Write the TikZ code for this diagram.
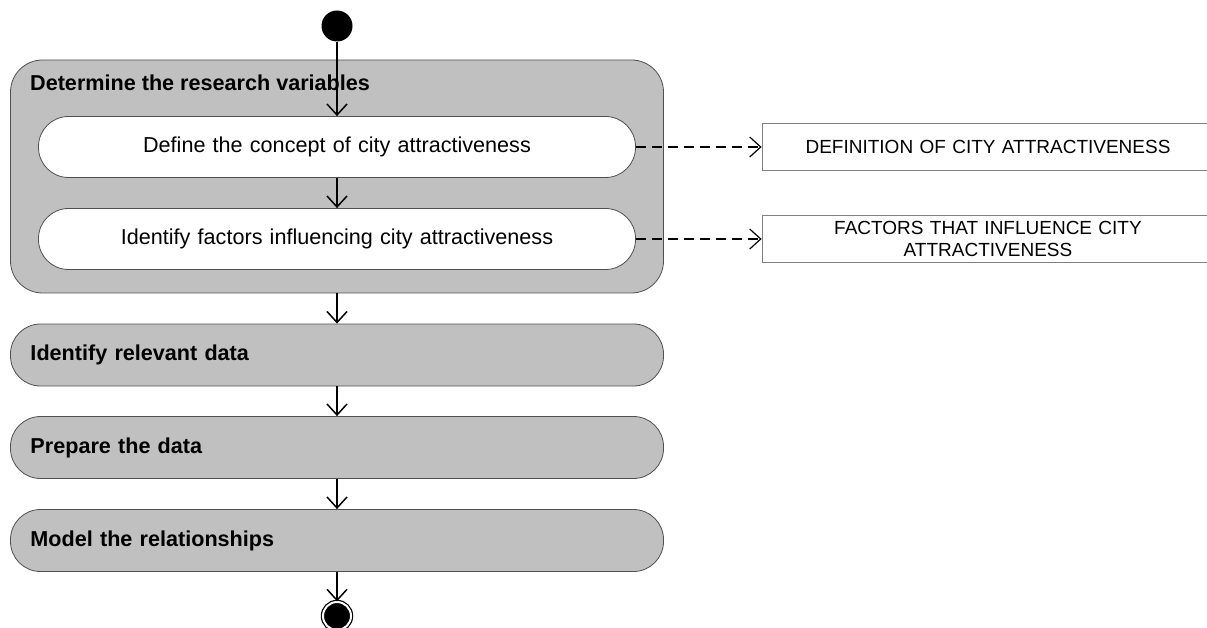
\documentclass[tikz,border=0pt]{standalone}
\usepackage{fontspec}
\setmainfont{Liberation Sans}
\usetikzlibrary{arrows.meta}
\definecolor{actF}{HTML}{C0C0C0}
\definecolor{actD}{HTML}{505050}
\definecolor{objD}{HTML}{808080}
\tikzset{
  act/.style={draw=actD, fill=actF, line width=0.8pt, rounded corners=30pt, minimum width=653pt,
              minimum height=62pt, text width=613pt, inner xsep=20pt, inner ysep=0pt, align=left,
              font=\fontsize{21.6}{26}\selectfont\bfseries},
  sub/.style={act, fill=white, minimum width=597pt, minimum height=61pt, text width=557pt,
              align=center, font=\fontsize{21.6}{26}\selectfont},
  obj/.style={draw=objD, line width=0.8pt, minimum width=452pt, minimum height=47pt, text width=420pt,
              inner sep=0pt, align=center, font=\fontsize{19}{22.5}\selectfont},
  flow/.style={-{Straight Barb[length=11pt,width=20pt]}, line width=1.5pt},
  produce/.style={flow, line width=1.2pt, dash pattern=on 10pt off 6pt},
}

\begin{document}
\begin{tikzpicture}[x=1pt, y=-1pt]
\useasboundingbox (0,0) rectangle (1207,628);
\node[circle, fill=black, minimum size=31pt, inner sep=0pt] (start) at (337,26) {};
\node[act, minimum height=233pt, rounded corners=32pt] (vars) at (337,176.5) {};
\node[anchor=west, inner sep=0pt, font=\fontsize{21.6}{26}\selectfont\bfseries] (varsT) at (30,83) {Determine the research variables};
\node[sub] (def) at (337,147) {Define the concept of city attractiveness};
\node[sub] (fac) at (337,239) {Identify factors influencing city attractiveness};
\node[act] (rel)   at (337,355)   {Identify relevant data};
\node[act] (prep)  at (337,447.5) {Prepare the data};
\node[act] (model) at (337,540.5) {Model the relationships};
\node[circle, fill=black, draw=black, double=white, double distance=2pt, line width=1.2pt,
      minimum size=28pt, inner sep=0pt] (stop) at (337,616) {};
% objects
\node[obj] (defO) at (988,147) {DEFINITION OF CITY ATTRACTIVENESS};
\node[obj] (facO) at (988,239) {FACTORS THAT INFLUENCE CITY\\ATTRACTIVENESS};
% flow
\foreach \a/\b in {start/def, def/fac, vars/rel, rel/prep, prep/model, model/stop}
  \draw[flow] (\a) -- (\b);
\draw[produce] (def) -- (defO);
\draw[produce] (fac) -- (facO);
\end{tikzpicture}
\end{document}
